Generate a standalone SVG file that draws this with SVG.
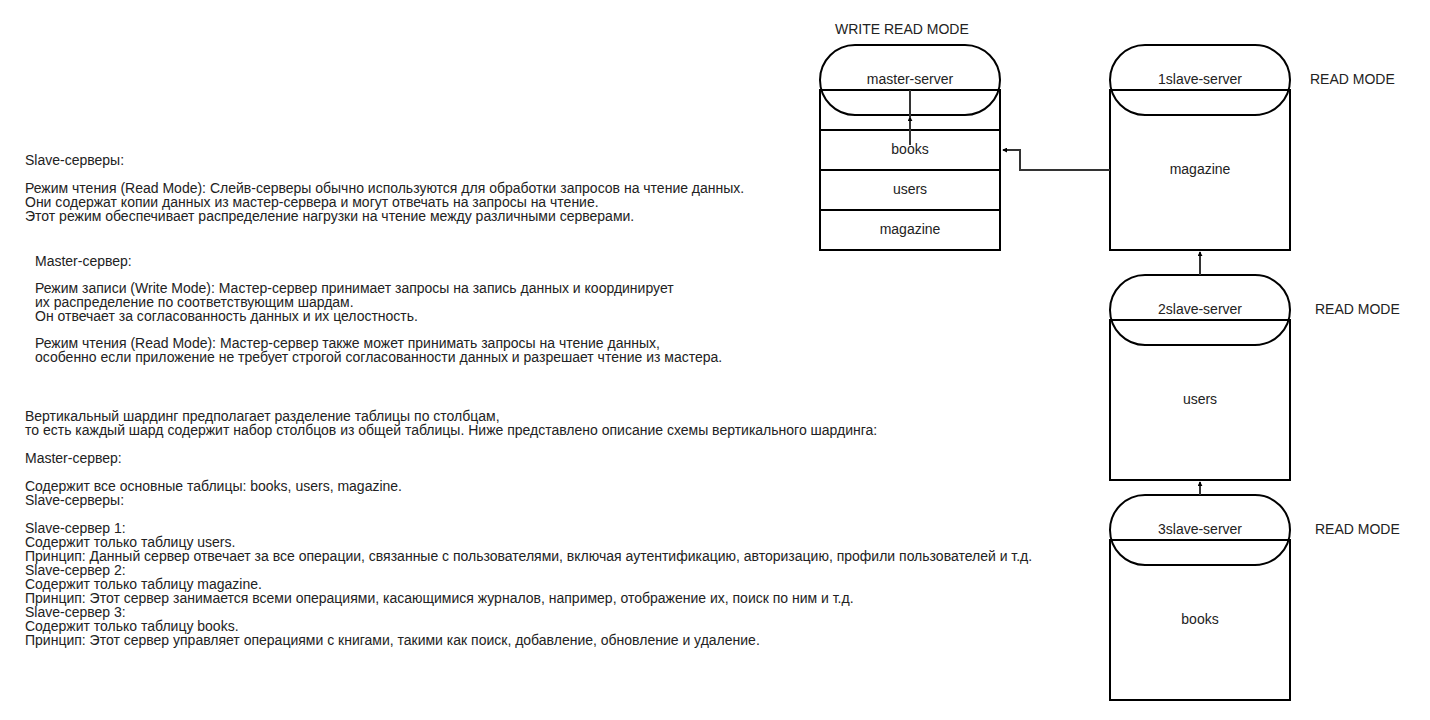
<svg xmlns="http://www.w3.org/2000/svg" width="1430" height="720" viewBox="0 0 1430 720">
<style>
text{font-family:"Liberation Sans",Arial,sans-serif;font-size:14px;fill:#222}
.c{text-anchor:middle}
.shape{fill:#fff;stroke:#000;stroke-width:2}
.ln{fill:none;stroke:#000;stroke-width:2}
.edge{fill:none;stroke:#333;stroke-width:2}
</style>
<defs>
<marker id="ah" viewBox="0 0 6 6" refX="5" refY="3" markerWidth="5" markerHeight="5" orient="auto" markerUnits="userSpaceOnUse">
<path d="M0,0 L6,3 L0,6 z" fill="#000"/>
</marker>
</defs>
<rect width="1430" height="720" fill="#fff"/>

<g id="notes">
<text x="25" y="165">Slave-серверы:</text>
<text x="25" y="193">Режим чтения (Read Mode): Слейв-серверы обычно используются для обработки запросов на чтение данных.</text>
<text x="25" y="207">Они содержат копии данных из мастер-сервера и могут отвечать на запросы на чтение.</text>
<text x="25" y="221">Этот режим обеспечивает распределение нагрузки на чтение между различными серверами.</text>

<text x="35" y="266">Master-сервер:</text>
<text x="35" y="293">Режим записи (Write Mode): Мастер-сервер принимает запросы на запись данных и координирует</text>
<text x="35" y="307">их распределение по соответствующим шардам.</text>
<text x="35" y="321">Он отвечает за согласованность данных и их целостность.</text>
<text x="35" y="348">Режим чтения (Read Mode): Мастер-сервер также может принимать запросы на чтение данных,</text>
<text x="35" y="362">особенно если приложение не требует строгой согласованности данных и разрешает чтение из мастера.</text>

<text x="25" y="421">Вертикальный шардинг предполагает разделение таблицы по столбцам,</text>
<text x="25" y="435">то есть каждый шард содержит набор столбцов из общей таблицы. Ниже представлено описание схемы вертикального шардинга:</text>
<text x="25" y="463">Master-сервер:</text>
<text x="25" y="491">Содержит все основные таблицы: books, users, magazine.</text>
<text x="25" y="505">Slave-серверы:</text>
<text x="25" y="533">Slave-сервер 1:</text>
<text x="25" y="547">Содержит только таблицу users.</text>
<text x="25" y="561">Принцип: Данный сервер отвечает за все операции, связанные с пользователями, включая аутентификацию, авторизацию, профили пользователей и т.д.</text>
<text x="25" y="575">Slave-сервер 2:</text>
<text x="25" y="589">Содержит только таблицу magazine.</text>
<text x="25" y="603">Принцип: Этот сервер занимается всеми операциями, касающимися журналов, например, отображение их, поиск по ним и т.д.</text>
<text x="25" y="617">Slave-сервер 3:</text>
<text x="25" y="631">Содержит только таблицу books.</text>
<text x="25" y="645">Принцип: Этот сервер управляет операциями с книгами, такими как поиск, добавление, обновление и удаление.</text>
</g>

<g id="label-write-read">
<text x="835" y="34">WRITE READ MODE</text>
</g>
<g id="label-read-1"><text x="1310" y="84">READ MODE</text></g>
<g id="label-read-2"><text x="1315" y="314">READ MODE</text></g>
<g id="label-read-3"><text x="1315" y="534">READ MODE</text></g>

<g id="master-tables">
<rect class="shape" x="820" y="90" width="180" height="160"/>
<line class="ln" x1="820" y1="130" x2="1000" y2="130"/>
<line class="ln" x1="820" y1="170" x2="1000" y2="170"/>
<line class="ln" x1="820" y1="210" x2="1000" y2="210"/>
<text class="c" x="910" y="154">books</text>
<text class="c" x="910" y="194">users</text>
<text class="c" x="910" y="234">magazine</text>
</g>
<g id="master-server">
<rect x="820" y="45" width="180" height="70" rx="35" ry="35" fill="none" stroke="#000" stroke-width="2"/>
<text class="c" x="910" y="84">master-server</text>
</g>

<g id="slave1">
<rect class="shape" x="1110" y="90" width="180" height="160"/>
<rect x="1110" y="45" width="180" height="70" rx="35" ry="35" fill="none" stroke="#000" stroke-width="2"/>
<line class="ln" x1="1110" y1="90" x2="1290" y2="90"/>
<text class="c" x="1200" y="84">1slave-server</text>
<text class="c" x="1200" y="174">magazine</text>
</g>

<g id="slave2">
<rect class="shape" x="1110" y="320" width="180" height="160"/>
<rect x="1110" y="275" width="180" height="70" rx="35" ry="35" fill="none" stroke="#000" stroke-width="2"/>
<line class="ln" x1="1110" y1="320" x2="1290" y2="320"/>
<text class="c" x="1200" y="314">2slave-server</text>
<text class="c" x="1200" y="404">users</text>
</g>

<g id="slave3">
<rect class="shape" x="1110" y="540" width="180" height="160"/>
<rect x="1110" y="495" width="180" height="70" rx="35" ry="35" fill="none" stroke="#000" stroke-width="2"/>
<line class="ln" x1="1110" y1="540" x2="1290" y2="540"/>
<text class="c" x="1200" y="534">3slave-server</text>
<text class="c" x="1200" y="624">books</text>
</g>

<g id="connectors">
<path class="edge" d="M910,145 L910,117" marker-end="url(#ah)"/>
<line class="edge" x1="910" y1="118" x2="910" y2="90"/>
<path class="edge" d="M1110,170 L1020,170 L1020,150 L1003,150" marker-end="url(#ah)"/>
<path class="edge" d="M1200,275 L1200,252" marker-end="url(#ah)"/>
<path class="edge" d="M1200,495 L1200,482" marker-end="url(#ah)"/>
</g>
</svg>
